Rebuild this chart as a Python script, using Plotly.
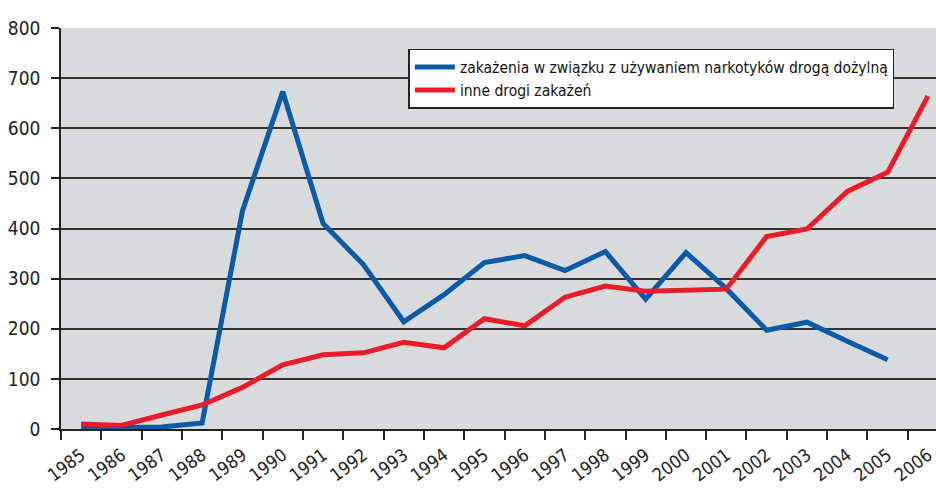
import plotly.graph_objects as go

years = [str(y) for y in range(1985, 2007)]
iv_drug = [2, 2, 4, 12, 435, 673, 410, 328, 214, 268, 332, 346, 316, 354, 259, 352, 280, 197, 213, 175, 138, None]
other_routes = [10, 7, 28, 48, 83, 128, 148, 152, 173, 162, 220, 206, 263, 285, 275, 278, 279, 384, 399, 474, 512, 664]
y_ticks = [0, 100, 200, 300, 400, 500, 600, 700, 800]

name_iv = "zakażenia w związku z używaniem narkotyków drogą dożylną"
name_other = "inne drogi zakażeń"

FONT = "DejaVu Sans Condensed, Liberation Sans Narrow, sans-serif"

fig = go.Figure()
fig.add_trace(go.Scatter(x=years, y=iv_drug, mode="lines", name=name_iv,
                         line=dict(color="#0a5aa8", width=5), connectgaps=False))
fig.add_trace(go.Scatter(x=years, y=other_routes, mode="lines", name=name_other,
                         line=dict(color="#ea1c2a", width=5)))

fig.update_layout(
    width=936, height=489,
    margin=dict(l=61, r=0, t=28, b=60, autoexpand=False),
    paper_bgcolor="white",
    plot_bgcolor="#d9dadc",
    font=dict(family=FONT, color="#222222", size=15),
    showlegend=True,
    legend=dict(
        x=0.397, y=0.948, xanchor="left", yanchor="top",
        bgcolor="white", bordercolor="#222222", borderwidth=1.5,
        font=dict(family=FONT, size=15.5, color="#111111"),
        tracegroupgap=0, itemwidth=40,
    ),
)
fig.update_xaxes(
    type="category", range=[-0.5, 21.2], automargin=False,
    tickson="boundaries", ticks="outside", ticklen=9, tickwidth=1.5, tickcolor="#222222",
    showline=True, linecolor="#222222", linewidth=1.5,
    showgrid=False, tickangle=-37, ticklabelstandoff=7,
    tickfont=dict(family=FONT, size=18, color="#222222"),
)
fig.update_yaxes(
    range=[0, 800], tickvals=y_ticks, ticktext=[str(v) for v in y_ticks], automargin=False,
    ticks="outside", ticklen=8, tickwidth=1.5, tickcolor="#222222",
    showline=True, linecolor="#222222", linewidth=1.5,
    showgrid=True, gridcolor="#333333", gridwidth=1.5,
    zeroline=False, ticklabelstandoff=7,
    tickfont=dict(family=FONT, size=19, color="#222222"),
)

fig.write_html("out.html",
               config={"displayModeBar": False},
               post_script="document.body.style.margin='0';document.body.style.overflow='hidden';")
